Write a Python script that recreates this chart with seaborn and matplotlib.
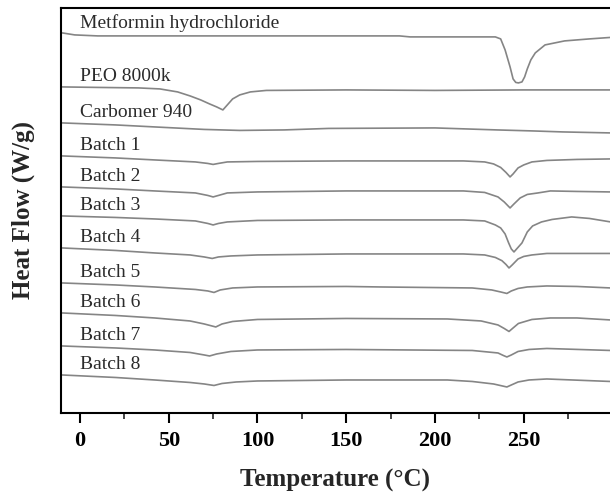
import matplotlib
matplotlib.use("Agg")
import matplotlib.pyplot as plt
from matplotlib.ticker import MultipleLocator
import seaborn as sns
import pandas as pd

# DSC curves: temperature (deg C) and heat flow (stacked, a.u.)
metformin_t = [-10, -3, 10, 100, 180, 186, 234, 237, 239.5, 242.3, 244, 245.5, 247, 249, 250.5, 252, 254, 256.5, 262, 273, 287, 299]
metformin_hf = [38.0, 37.8, 37.7, 37.7, 37.7, 37.6, 37.6, 37.4, 36.3, 34.6, 33.4, 33.05, 33.0, 33.1, 33.6, 34.4, 35.3, 36.0, 36.8, 37.2, 37.4, 37.55]

peo_t = [-10, 10, 33, 45, 55, 62, 68, 73, 77, 80.5, 83, 86, 90, 96, 105, 150, 200, 250, 299]
peo_hf = [32.6, 32.55, 32.5, 32.4, 32.1, 31.7, 31.3, 30.9, 30.6, 30.3, 30.8, 31.4, 31.8, 32.1, 32.25, 32.3, 32.25, 32.3, 32.3]

carbomer_t = [-10, 20, 42, 70, 90, 115, 140, 200, 235, 255, 272, 299]
carbomer_hf = [29.0, 28.8, 28.6, 28.35, 28.25, 28.3, 28.45, 28.5, 28.3, 28.2, 28.1, 28.0]

batch1_t = [-10, 20, 42, 65, 72, 75, 78, 83, 100, 150, 216, 228, 233, 237, 240, 242.3, 244, 246.8, 250, 254.6, 263, 280, 299]
batch1_hf = [25.7, 25.5, 25.3, 25.1, 24.95, 24.85, 24.95, 25.1, 25.15, 25.2, 25.2, 25.1, 24.9, 24.55, 24.05, 23.6, 23.9, 24.5, 24.8, 25.1, 25.25, 25.35, 25.4]

batch2_t = [-10, 20, 42, 65, 72, 75, 78, 83, 100, 150, 216, 228, 235.5, 239, 242.3, 244.5, 248, 252, 258, 265, 280, 299]
batch2_hf = [22.6, 22.4, 22.2, 22.0, 21.75, 21.6, 21.75, 22.0, 22.1, 22.2, 22.2, 22.05, 21.6, 21.1, 20.5, 20.9, 21.5, 21.85, 22.0, 22.2, 22.15, 22.1]

batch3_t = [-10, 20, 42, 65, 72, 75, 78, 83, 100, 150, 216, 228, 234, 237, 239.5, 241.5, 243, 244.5, 246, 249, 252, 255, 260, 266, 277, 287, 299]
batch3_hf = [19.7, 19.55, 19.4, 19.2, 18.95, 18.8, 18.95, 19.1, 19.25, 19.3, 19.3, 19.2, 18.8, 18.5, 17.9, 17.0, 16.4, 16.1, 16.4, 17.0, 18.1, 18.7, 19.1, 19.35, 19.6, 19.45, 19.1]

batch4_t = [-10, 20, 42, 62, 70, 74.5, 78, 85, 100, 150, 216, 228, 234, 237.7, 240, 241.7, 243.5, 246.8, 250, 254.6, 263, 299]
batch4_hf = [16.5, 16.25, 16.0, 15.8, 15.6, 15.45, 15.6, 15.7, 15.8, 15.9, 15.9, 15.8, 15.55, 15.23, 14.85, 14.5, 14.8, 15.4, 15.65, 15.8, 15.95, 15.95]

batch5_t = [-10, 20, 42, 65, 72, 75.5, 79, 86, 100, 150, 169, 221, 232, 237, 240.5, 243, 246.8, 252, 263, 280, 299]
batch5_hf = [13.0, 12.8, 12.6, 12.35, 12.2, 12.05, 12.3, 12.5, 12.6, 12.65, 12.6, 12.5, 12.3, 12.1, 11.95, 12.2, 12.45, 12.6, 12.7, 12.65, 12.5]

batch6_t = [-10, 20, 42, 62, 70, 76.5, 80, 86, 100, 150, 207, 226, 235.5, 239, 241.7, 244, 247, 254.6, 265, 280, 299]
batch6_hf = [10.0, 9.75, 9.5, 9.2, 8.9, 8.6, 8.9, 9.15, 9.35, 9.45, 9.4, 9.2, 8.8, 8.45, 8.15, 8.5, 8.95, 9.35, 9.5, 9.5, 9.3]

batch7_t = [-10, 20, 42, 62, 70, 73, 77, 85, 100, 150, 221, 235.5, 238.5, 240.5, 243, 246.8, 253, 263, 299]
batch7_hf = [6.7, 6.5, 6.3, 6.05, 5.8, 5.7, 5.9, 6.15, 6.3, 6.35, 6.25, 6.0, 5.75, 5.6, 5.8, 6.15, 6.35, 6.45, 6.25]

batch8_t = [-10, 20, 42, 62, 70, 75.5, 80, 88, 100, 150, 207, 221, 233, 238, 240.5, 243, 246.8, 253, 263, 299]
batch8_hf = [3.8, 3.55, 3.3, 3.05, 2.9, 2.75, 2.95, 3.1, 3.2, 3.3, 3.3, 3.15, 2.9, 2.7, 2.6, 2.8, 3.1, 3.3, 3.4, 3.15]

sample_names = ["Metformin hydrochloride", "PEO 8000k", "Carbomer 940",
                "Batch 1", "Batch 2", "Batch 3", "Batch 4",
                "Batch 5", "Batch 6", "Batch 7", "Batch 8"]
curves = [(metformin_t, metformin_hf), (peo_t, peo_hf), (carbomer_t, carbomer_hf),
          (batch1_t, batch1_hf), (batch2_t, batch2_hf), (batch3_t, batch3_hf),
          (batch4_t, batch4_hf), (batch5_t, batch5_hf), (batch6_t, batch6_hf),
          (batch7_t, batch7_hf), (batch8_t, batch8_hf)]

sns.set_theme(style="ticks")
plt.rcParams['font.family'] = ['Liberation Serif', 'DejaVu Serif']

fig = plt.figure(figsize=(6.1, 4.94), dpi=100)
ax = fig.add_axes([0.1, 0.164, 0.9, 0.82])

for name, (t, hf) in zip(sample_names, curves):
    df = pd.DataFrame({"Temperature": t, "HeatFlow": hf})
    sns.lineplot(data=df, x="Temperature", y="HeatFlow", ax=ax, color="#858585",
                 linewidth=1.2, sort=False, estimator=None)
    ax.text(0, hf[0] + 1.0, name, fontsize=14, color="#2b2b2b", va="center", ha="left")

ax.set_xlim(-10.7, 298.6)
ax.set_ylim(0, 40.5)
ax.xaxis.set_major_locator(MultipleLocator(50))
ax.xaxis.set_minor_locator(MultipleLocator(25))
ax.set_yticks([])
ax.tick_params(axis="x", which="major", direction="out", length=7, width=1.5,
               labelsize=16, colors="black", pad=6)
ax.tick_params(axis="x", which="minor", direction="out", length=4, width=1.2)
for lab in ax.get_xticklabels():
    lab.set_fontweight("bold")

for side in ["left", "bottom", "top"]:
    ax.spines[side].set_linewidth(1.5)
    ax.spines[side].set_color("black")
ax.spines["right"].set_visible(False)

ax.set_xlabel("Temperature (\u00b0C)", fontsize=18, fontweight="bold", labelpad=13)
ax.set_ylabel("Heat Flow (W/g)", fontsize=18, fontweight="bold", labelpad=19)

plt.savefig("out.png", dpi=100)
